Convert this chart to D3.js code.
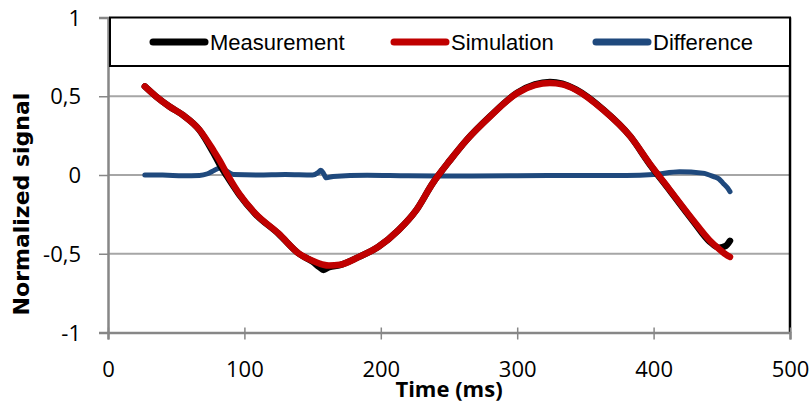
<!DOCTYPE html>
<html><head><meta charset="utf-8">
<script src="https://cdn.jsdelivr.net/npm/d3@7"></script>
<style>body{margin:0;background:#fff}svg{display:block}</style>
</head><body>
<svg id="c" width="811" height="405"></svg>
<script>
const time = [27, 35, 45, 55, 67, 77, 82, 87, 96, 108, 125, 140, 150, 155, 158, 162, 170, 184, 198, 213, 226, 238, 251, 263, 280, 300, 313, 324, 333, 343, 363, 383, 397, 412, 429, 441, 448, 453, 456];
const simulation = [0.562, 0.50, 0.435, 0.38, 0.287, 0.16, 0.09, 0.01, -0.117, -0.244, -0.371, -0.499, -0.545, -0.562, -0.57, -0.575, -0.57, -0.52, -0.457, -0.35, -0.223, -0.053, 0.096, 0.223, 0.371, 0.52, 0.57, 0.584, 0.575, 0.541, 0.414, 0.244, 0.074, -0.096, -0.287, -0.414, -0.47, -0.505, -0.52];
const measurement = [0.562, 0.50, 0.435, 0.38, 0.286, 0.145, 0.065, -0.005, -0.122, -0.247, -0.373, -0.5, -0.55, -0.585, -0.603, -0.585, -0.572, -0.52, -0.457, -0.35, -0.223, -0.053, 0.096, 0.223, 0.372, 0.522, 0.575, 0.59, 0.58, 0.543, 0.416, 0.244, 0.07, -0.1, -0.293, -0.422, -0.462, -0.45, -0.418];
const diffTime = [27, 40, 55, 67, 73, 78, 82, 86, 92, 110, 130, 150, 154, 156, 158, 160, 165, 190, 220, 260, 300, 340, 380, 400, 419, 436, 444, 448, 451, 454, 456];
const difference = [0.0, 0.0, -0.005, -0.003, 0.008, 0.03, 0.045, 0.03, 0.003, 0.0, 0.003, 0.0, 0.015, 0.03, 0.01, -0.018, -0.01, -0.002, -0.005, -0.006, -0.004, -0.003, -0.003, 0.003, 0.021, 0.012, -0.01, -0.025, -0.053, -0.08, -0.106];
const xTicks = [0, 100, 200, 300, 400, 500];
const yTicks = [-1, -0.5, 0, 0.5, 1];
const yTickLabels = ["-1", "-0,5", "0", "0,5", "1"];
const seriesNames = ["Measurement", "Simulation", "Difference"];
const seriesColors = ["#000000", "#C00000", "#1F497D"];

const svg = d3.select("#c");
const L = 108, R = 790, T = 17.5, B = 332.5;
const x = d3.scaleLinear().domain([0, 500]).range([L, R]);
const y = d3.scaleLinear().domain([-1, 1]).range([B, T]);

// gridlines
svg.append("g").selectAll("line").data(yTicks.filter(v => v > -1 && v < 1)).join("line")
  .attr("x1", L).attr("x2", R).attr("y1", d => y(d)).attr("y2", d => y(d))
  .attr("stroke", "#A6A6A6").attr("stroke-width", 2);

// right border
svg.append("line").attr("x1", R).attr("x2", R).attr("y1", T).attr("y2", B)
  .attr("stroke", "#000").attr("stroke-width", 2.5);

// axes
const axisColor = "#878787";
const yAxis = svg.append("g").attr("transform", `translate(${L},0)`)
  .call(d3.axisLeft(y).tickValues(yTicks).tickSize(9).tickFormat((d, i) => yTickLabels[i]));
const xAxis = svg.append("g").attr("transform", `translate(0,${B})`)
  .call(d3.axisBottom(x).tickValues(xTicks).tickSize(7).tickFormat(d3.format("d")));
[xAxis, yAxis].forEach(g => {
  g.select(".domain").attr("stroke", axisColor).attr("stroke-width", 2.5);
  g.selectAll(".tick line").attr("stroke", axisColor).attr("stroke-width", 1.5);
  g.selectAll("text").attr("font-family", "'Open Sans', sans-serif").attr("font-size", 22).attr("fill", "#000");
});
xAxis.selectAll(".tick line").attr("y1", -5);
xAxis.selectAll("text").attr("dy", 0).attr("y", 44);
yAxis.selectAll("text").attr("x", -27).attr("dy", "0.35em");

// lines
const line = d3.line().x(d => x(d[0])).y(d => y(d[1])).curve(d3.curveMonotoneX);
const draw = (t, v, color, w) => svg.append("path")
  .attr("d", line(t.map((tt, i) => [tt, v[i]])))
  .attr("fill", "none").attr("stroke", color).attr("stroke-width", w)
  .attr("stroke-linecap", "round").attr("stroke-linejoin", "round");
draw(diffTime, difference, seriesColors[2], 5);
draw(time, measurement, seriesColors[0], 6.5);
draw(time, simulation, seriesColors[1], 6.5);

// legend
const lg = svg.append("g");
lg.append("rect").attr("x", 110).attr("y", T).attr("width", R - 110).attr("height", 66 - T)
  .attr("fill", "#fff").attr("stroke", "#000").attr("stroke-width", 2);
const legendX = [150, 391, 593];
seriesNames.forEach((n, i) => {
  lg.append("line").attr("x1", legendX[i] + 3).attr("x2", legendX[i] + 55).attr("y1", 42).attr("y2", 42)
    .attr("stroke", seriesColors[i]).attr("stroke-width", 7).attr("stroke-linecap", "round");
  lg.append("text").attr("x", legendX[i] + 60).attr("y", 42).attr("dy", "0.35em")
    .attr("font-family", "'Liberation Sans', Arial, sans-serif").attr("font-size", 22).text(n);
});

// axis titles
svg.append("text").attr("x", (L + R) / 2).attr("y", 397).attr("text-anchor", "middle")
  .attr("font-family", "'Open Sans', sans-serif").attr("font-weight", "bold").attr("font-size", 22)
  .text("Time (ms)");
svg.append("text").attr("transform", "translate(29,204) rotate(-90)").attr("text-anchor", "middle")
  .attr("font-family", "'DejaVu Sans', sans-serif").attr("font-weight", "bold").attr("font-size", 22)
  .text("Normalized signal");
</script>
</body></html>
